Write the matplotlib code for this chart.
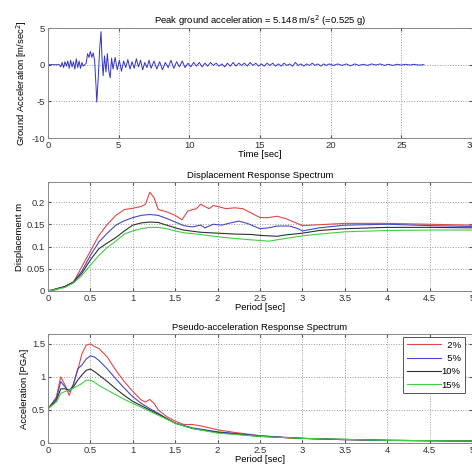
import matplotlib
matplotlib.use("Agg")
import matplotlib.pyplot as plt

plt.rcParams["font.family"] = ["Liberation Sans", "DejaVu Sans"]
plt.rcParams["axes.unicode_minus"] = False

# ground acceleration record [s], [m/s^2]
acc_t = [0, 0.8, 0.9, 1.0, 1.1, 1.2, 1.3, 1.4, 1.5, 1.6, 1.7, 1.8, 1.9, 2.0, 2.1, 2.2,
         2.3, 2.4, 2.5, 2.6, 2.7, 2.8, 2.9, 3.0, 3.1, 3.2, 3.3, 3.4, 3.45, 3.55, 3.65,
         3.75, 3.82, 3.9, 4.0, 4.1, 4.2, 4.3, 4.4, 4.5, 4.6, 4.75, 4.9, 5.05, 5.2, 5.35,
         5.5, 5.65, 5.8, 5.95, 6.1, 6.25, 6.4, 6.55, 6.7, 6.85, 7.0, 7.15, 7.3, 7.5,
         7.7, 7.9, 8.1, 8.3, 8.5, 8.7, 8.9, 9.1, 9.3, 9.5, 9.7, 9.9, 10.1, 10.3, 10.5,
         10.7, 10.9, 11.1, 11.3, 11.5, 11.7, 11.9, 12.1, 12.3, 12.5, 12.7, 12.9, 13.1,
         13.3, 13.5, 13.7, 13.9, 14.1, 14.3, 14.5, 14.7, 14.9, 15.1, 15.3, 15.5, 15.7,
         15.9, 16.1, 16.3, 16.5, 16.7, 16.9, 17.1, 17.3, 17.5, 17.7, 17.9, 18.1, 18.3,
         18.5, 18.7, 18.9, 19.1, 19.3, 19.5, 19.7, 19.9, 20.2, 20.5, 20.8, 21.1, 21.4,
         21.7, 22.0, 22.3, 22.6, 22.9, 23.2, 23.5, 23.8, 24.1, 24.4, 24.7, 25.0, 25.3,
         25.6, 25.9, 26.2, 26.6]
acc_a = [0, 0, -0.3, 0.3, -0.4, 0.4, -0.2, 0.5, -0.5, 0.6, -0.3, 0.4, -0.6, 0.8, -0.4,
         0.5, -0.5, 0.3, -0.2, 0.0, 0.2, 1.5, 1.0, 1.8, 1.0, 1.6, 0.5, -3.0, -5.1, -2.0,
         2.0, 4.5, 1.0, -1.5, 1.2, -1.0, 1.5, -0.8, -1.8, 0.9, -0.6, 1.0, -0.7, 0.6,
         -0.9, 0.5, -0.4, 0.7, -0.6, 0.4, -0.5, 0.8, -0.3, 0.6, -0.7, 0.3, -0.4, 0.6,
         -0.5, 0.5, -0.6, 0.4, -0.7, 0.3, -0.4, 0.6, -0.5, 0.4, -0.3, 0.5, -0.4, 0.2,
         -0.3, 0.3, -0.2, 0.3, -0.3, 0.2, -0.2, 0.3, -0.1, 0.2, -0.2, 0.1, -0.3, 0.2,
         -0.2, 0.3, -0.2, 0.2, -0.1, 0.2, -0.2, 0.3, -0.1, 0.2, -0.2, 0.1, -0.2, 0.2,
         -0.1, 0.2, -0.2, 0.1, -0.2, 0.2, -0.1, 0.1, -0.2, 0.3, -0.1, 0.1, -0.2, 0.1,
         -0.1, 0.2, -0.1, 0.1, -0.2, 0.1, -0.1, 0.1, -0.1, 0.1, -0.1, 0.1, -0.15, 0.1,
         -0.1, 0.05, -0.1, 0.1, -0.05, 0.1, -0.1, 0.05, -0.1, 0.05, -0.05, 0.05, -0.05,
         0.05, -0.05, 0.0]

# figure-space padding keeps the legend labels right-aligned
damping = ["\u20072%", "\u20075%", "10%", "15%"]

# displacement spectrum [m]
sd_T = [[0, 0.1, 0.2, 0.3, 0.4, 0.5, 0.6, 0.7, 0.8, 0.9, 1.0, 1.1, 1.15, 1.2, 1.25, 1.3,
         1.4, 1.5, 1.58, 1.65, 1.75, 1.8, 1.9, 1.95, 2.0, 2.1, 2.2, 2.3, 2.4, 2.5, 2.6,
         2.7, 2.8, 2.9, 3.0, 3.2, 3.5, 4.0, 4.5, 5.0],
        [0, 0.2, 0.3, 0.4, 0.5, 0.6, 0.7, 0.8, 0.9, 1.0, 1.1, 1.2, 1.3, 1.4, 1.5, 1.6,
         1.7, 1.8, 1.85, 1.95, 2.05, 2.15, 2.25, 2.35, 2.5, 2.6, 2.7, 2.85, 2.95, 3.0,
         3.2, 3.5, 4.0, 4.5, 5.0],
        [0, 0.2, 0.3, 0.4, 0.5, 0.6, 0.7, 0.8, 0.9, 1.0, 1.1, 1.2, 1.3, 1.4, 1.5, 1.6,
         1.8, 2.0, 2.2, 2.4, 2.5, 2.7, 2.8, 3.0, 3.2, 3.5, 4.0, 4.5, 5.0],
        [0, 0.2, 0.3, 0.4, 0.5, 0.6, 0.7, 0.8, 0.9, 1.0, 1.1, 1.2, 1.3, 1.4, 1.5, 1.6,
         1.8, 2.0, 2.2, 2.4, 2.6, 2.7, 2.8, 3.0, 3.2, 3.5, 4.0, 4.5, 5.0]]
sd_val = [[0, 0.003, 0.01, 0.02, 0.055, 0.09, 0.125, 0.15, 0.17, 0.183, 0.186, 0.19,
           0.195, 0.222, 0.21, 0.183, 0.178, 0.17, 0.16, 0.18, 0.185, 0.195, 0.185,
           0.192, 0.19, 0.185, 0.187, 0.185, 0.175, 0.165, 0.165, 0.168, 0.163, 0.155,
           0.147, 0.149, 0.152, 0.152, 0.15, 0.148],
          [0, 0.01, 0.02, 0.045, 0.08, 0.11, 0.13, 0.148, 0.158, 0.165, 0.17, 0.172,
           0.17, 0.163, 0.155, 0.147, 0.144, 0.148, 0.142, 0.15, 0.148, 0.153, 0.157,
           0.152, 0.14, 0.142, 0.146, 0.146, 0.14, 0.135, 0.142, 0.148, 0.15, 0.147,
           0.145],
          [0, 0.01, 0.02, 0.04, 0.07, 0.095, 0.108, 0.12, 0.135, 0.148, 0.153, 0.155,
           0.154, 0.148, 0.142, 0.137, 0.132, 0.13, 0.128, 0.127, 0.125, 0.123, 0.126,
           0.13, 0.136, 0.14, 0.143, 0.143, 0.142],
          [0, 0.008, 0.018, 0.035, 0.058, 0.08, 0.098, 0.112, 0.128, 0.135, 0.14, 0.143,
           0.143, 0.14, 0.135, 0.131, 0.127, 0.122, 0.118, 0.115, 0.112, 0.115, 0.118,
           0.124, 0.128, 0.133, 0.136, 0.137, 0.137]]

# pseudo-acceleration spectrum [PGA]
sa_T = [[0, 0.05, 0.1, 0.15, 0.2, 0.25, 0.3, 0.35, 0.4, 0.45, 0.5, 0.55, 0.6, 0.7, 0.8,
         0.9, 1.0, 1.1, 1.15, 1.2, 1.25, 1.3, 1.4, 1.5, 1.6, 1.7, 1.8, 2.0, 2.2, 2.5,
         2.8, 3.0, 3.5, 4.0, 4.5, 5.0],
        [0, 0.1, 0.15, 0.2, 0.25, 0.3, 0.35, 0.4, 0.45, 0.5, 0.55, 0.6, 0.7, 0.8, 0.9,
         1.0, 1.1, 1.2, 1.3, 1.4, 1.5, 1.7, 2.0, 2.5, 3.0, 3.5, 4.0, 5.0],
        [0, 0.1, 0.15, 0.2, 0.25, 0.3, 0.35, 0.4, 0.45, 0.5, 0.55, 0.6, 0.7, 0.8, 0.9,
         1.0, 1.2, 1.4, 1.5, 1.7, 2.0, 2.5, 3.0, 4.0, 5.0],
        [0, 0.1, 0.15, 0.2, 0.25, 0.3, 0.4, 0.45, 0.5, 0.55, 0.6, 0.7, 0.8, 0.9, 1.0,
         1.2, 1.4, 1.5, 1.7, 2.0, 2.5, 3.0, 4.0, 5.0]]
sa_val = [[0.52, 0.6, 0.7, 1.0, 0.88, 0.72, 0.9, 1.1, 1.35, 1.48, 1.5, 1.46, 1.43, 1.3,
           1.1, 0.93, 0.78, 0.65, 0.62, 0.66, 0.6, 0.5, 0.4, 0.33, 0.28, 0.28, 0.26,
           0.2, 0.16, 0.11, 0.08, 0.07, 0.05, 0.04, 0.035, 0.03],
          [0.52, 0.68, 0.93, 0.85, 0.78, 0.88, 1.12, 1.18, 1.27, 1.32, 1.3, 1.25, 1.12,
           0.97, 0.83, 0.7, 0.6, 0.52, 0.45, 0.37, 0.3, 0.23, 0.17, 0.11, 0.07, 0.05,
           0.04, 0.03],
          [0.52, 0.65, 0.82, 0.82, 0.8, 0.85, 0.95, 1.03, 1.1, 1.12, 1.08, 1.03, 0.93,
           0.82, 0.72, 0.63, 0.5, 0.37, 0.3, 0.22, 0.16, 0.1, 0.07, 0.04, 0.03],
          [0.52, 0.62, 0.75, 0.78, 0.8, 0.83, 0.9, 0.95, 0.95, 0.92, 0.87, 0.8, 0.73,
           0.66, 0.6, 0.48, 0.36, 0.3, 0.22, 0.15, 0.1, 0.07, 0.04, 0.03]]

colors = ["#e04848", "#4848c8", "#303030", "#40d040"]
fs = 6.8

fig = plt.figure(figsize=(4.72, 4.68), dpi=100)
W, H = 472, 468


def make_ax(top, bottom, left=48, right=472):
    return fig.add_axes([left / W, 1 - bottom / H, (right - left) / W, (bottom - top) / H])


def style(ax):
    ax.grid(True, linestyle=":", color="#999999", linewidth=0.7)
    ax.tick_params(direction="in", length=2.5, labelsize=fs, top=True, right=True,
                   colors="#555555", labelcolor="#333333", pad=2)
    for s in ax.spines.values():
        s.set_color("#888888")
        s.set_linewidth(0.7)


ax1 = make_ax(28, 138)
ax1.plot(acc_t, acc_a, color="#3434c4", linewidth=0.7)
ax1.set_xlim(0, 30)
ax1.set_ylim(-10, 5)
ax1.set_xticks([0, 5, 10, 15, 20, 25, 30])
ax1.set_yticks([-10, -5, 0, 5])
ax1.set_xlabel("Time [sec]", fontsize=fs, labelpad=0)
ax1.set_ylabel("Ground Acceleration [m/sec$^2$]", fontsize=fs, labelpad=2)
ax1.set_title("Peak ground acceleration = 5.148 m/s$^2$ (=0.525 g)", fontsize=fs, pad=3)
style(ax1)

ax2 = make_ax(182, 291)
for T, v, c in zip(sd_T, sd_val, colors):
    ax2.plot(T, v, color=c, linewidth=0.8)
ax2.set_xlim(0, 5)
ax2.set_ylim(0, 0.245)
ax2.set_xticks([0, 0.5, 1, 1.5, 2, 2.5, 3, 3.5, 4, 4.5, 5])
ax2.set_xticklabels(["0", "0.5", "1", "1.5", "2", "2.5", "3", "3.5", "4", "4.5", "5"])
ax2.set_yticks([0, 0.05, 0.1, 0.15, 0.2])
ax2.set_yticklabels(["0", "0.05", "0.1", "0.15", "0.2"])
ax2.set_xlabel("Period [sec]", fontsize=fs, labelpad=0)
ax2.set_ylabel("Displacement m", fontsize=fs, labelpad=2)
ax2.set_title("Displacement Response Spectrum", fontsize=fs, pad=3)
style(ax2)

ax3 = make_ax(334, 443)
for T, v, c, lab in zip(sa_T, sa_val, colors, damping):
    ax3.plot(T, v, color=c, linewidth=0.8, label=lab)
ax3.set_xlim(0, 5)
ax3.set_ylim(0, 1.65)
ax3.set_xticks([0, 0.5, 1, 1.5, 2, 2.5, 3, 3.5, 4, 4.5, 5])
ax3.set_xticklabels(["0", "0.5", "1", "1.5", "2", "2.5", "3", "3.5", "4", "4.5", "5"])
ax3.set_yticks([0, 0.5, 1, 1.5])
ax3.set_yticklabels(["0", "0.5", "1", "1.5"])
ax3.set_xlabel("Period [sec]", fontsize=fs, labelpad=0)
ax3.set_ylabel("Acceleration [PGA]", fontsize=fs, labelpad=2)
ax3.set_title("Pseudo-acceleration Response Spectrum", fontsize=fs, pad=3)
style(ax3)
leg = ax3.legend(loc="upper left", bbox_to_anchor=(403 / W, 1 - 337 / H),
                 bbox_transform=fig.transFigure, fontsize=fs, fancybox=False,
                 framealpha=1, edgecolor="#555555", handlelength=3.6,
                 handletextpad=0.1, borderpad=0.4, labelspacing=0.45,
                 borderaxespad=0)
leg.get_frame().set_linewidth(0.7)

fig.savefig("out.png", dpi=100)
